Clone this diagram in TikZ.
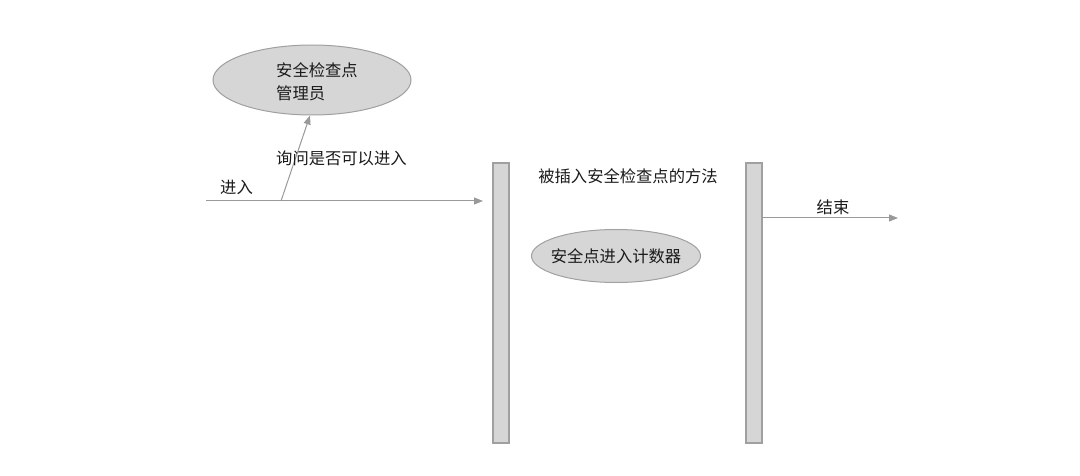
\documentclass[tikz,border=0pt]{standalone}
\usepackage{fontspec}
\setmainfont{Noto Sans CJK SC}
\usetikzlibrary{arrows.meta,shapes.geometric}
\definecolor{fillg}{HTML}{D6D6D6}
\definecolor{lineg}{HTML}{A0A0A0}
\definecolor{arrg}{HTML}{999999}
\definecolor{txt}{HTML}{1A1A1A}
\begin{document}
\begin{tikzpicture}[x=1pt,y=-1pt,
  oval/.style={ellipse,draw=lineg,fill=fillg,line width=1pt,inner sep=0pt},
  bar/.style={draw=lineg,fill=fillg,line width=1.2pt,inner sep=0pt},
  conn/.style={draw=arrg,line width=1pt,-{Triangle[length=9pt,width=7pt]}},
  lbl/.style={font=\fontsize{16.3}{23}\selectfont,text=txt,inner sep=0pt}]
\useasboundingbox (0,0) rectangle (1080,476);
\node[oval,minimum width=198pt,minimum height=70pt] (mgr) at (312,80) {};
\node[lbl,align=left,anchor=west] (mgrt) at (276,82) {安全检查点\\管理员};
\node[bar,minimum width=16pt,minimum height=280pt] (b1) at (501,303) {};
\node[bar,minimum width=16pt,minimum height=280pt] (b2) at (754,303) {};
\coordinate (start) at (206,201);
\coordinate (fork) at (281,201);
\coordinate (endpt) at (898,218);
\draw[conn] (start) -- (483,201) coordinate (in1);
\draw[conn] (fork) -- (mgr.south -| 310,0) ;
\node[lbl,anchor=west] (ask) at (276,158) {询问是否可以进入};
\node[lbl,anchor=west] (enter) at (220,187) {进入};
\node[lbl] (method) at (628,176) {被插入安全检查点的方法};
\node[oval,minimum width=169pt,minimum height=53pt] (cnt) at (616,256) {};
\node[lbl] (cntt) at (616,256) {安全点进入计数器};
\draw[conn] (b2.east |- endpt) -- (endpt);
\node[lbl] (end) at (833,207) {结束};
\end{tikzpicture}
\end{document}
